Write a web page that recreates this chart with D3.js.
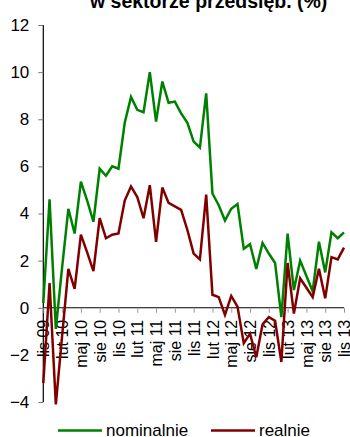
<!DOCTYPE html>
<html>
<head>
<meta charset="utf-8">
<script src="https://cdn.jsdelivr.net/npm/d3@7/dist/d3.min.js"></script>
<style>
  html, body { margin: 0; padding: 0; background: #fff; }
  svg { display: block; font-family: "Liberation Sans", Arial, sans-serif; }
</style>
</head>
<body>
<svg id="chart" width="350" height="437"></svg>
<script>
// ---- data ----
const titleText = "w sektorze przedsięb. (%)";
const tickLabels = ["lis 09","lut 10","maj 10","sie 10","lis 10","lut 11","maj 11","sie 11","lis 11",
                    "lut 12","maj 12","sie 12","lis 12","lut 13","maj 13","sie 13","lis 13"];
const yTicks = [-4,-2,0,2,4,6,8,10,12];
const nominalnie = [0.2,4.6,-0.9,1.7,4.2,3.15,5.35,4.55,3.65,5.9,5.6,6.0,5.9,
  7.85,8.95,8.4,8.3,10.0,7.9,9.6,8.7,8.75,8.25,7.85,7.05,6.8,9.1,
  4.85,4.35,3.7,4.2,4.4,2.5,2.7,1.65,2.75,2.3,1.9,-0.4,3.15,0.75,
  2.0,1.35,0.7,2.8,1.5,3.2,2.95,3.2];
const realnie = [-3.2,1.05,-4.1,-1.2,1.65,0.8,3.1,2.35,1.55,3.8,2.95,3.1,3.15,
  4.55,5.15,4.7,3.8,5.2,2.8,5.1,4.45,4.3,4.15,3.3,2.3,2.05,4.8,
  0.55,0.45,-0.3,0.5,0.05,-1.5,-1.1,-2.1,-0.7,-0.4,-0.55,-2.3,1.9,-0.25,
  1.25,0.85,0.45,1.65,0.4,2.15,2.05,2.55];
const seriesNames = ["nominalnie","realnie"];
const seriesColors = ["#008000","#800000"];

// ---- layout ----
const svg = d3.select("#chart");
const x0 = 43.3, x1 = 344;
const x = d3.scaleLinear().domain([0, nominalnie.length - 1]).range([x0, x1]);
const y = d3.scaleLinear().domain([-4, 12]).range([402, 25]);
const monthsPerTick = 3;

// title (cropped at top)
svg.append("text").attr("x", 90).attr("y", 7.5)
  .attr("font-weight", "bold").attr("font-size", "19.5px").attr("fill", "#000")
  .text(titleText);

// y axis
const yAxis = d3.axisLeft(y).tickValues(yTicks).tickSize(5).tickPadding(9)
  .tickFormat(d3.format("d"));
const gy = svg.append("g").attr("transform", `translate(${x0},0)`).call(yAxis);
gy.select(".domain").attr("stroke", "#000").attr("stroke-width", 1.2).attr("d", `M0,${y(12)}V${y(-4)}`);
gy.selectAll(".tick line").attr("stroke", "#777");
gy.selectAll(".tick text").attr("font-size", "17px").attr("fill", "#000")
  .attr("font-family", "Liberation Sans, Arial, sans-serif");

// x axis at zero
const tickIdx = tickLabels.map((_, i) => i * monthsPerTick);
const xAxis = d3.axisBottom(x).tickValues(tickIdx).tickSize(5)
  .tickFormat((d, i) => tickLabels[i]);
const gx = svg.append("g").attr("transform", `translate(0,${y(0)})`).call(xAxis);
gx.select(".domain").attr("stroke", "#000").attr("stroke-width", 1.2).attr("d", `M${x0},0H${x1}`);
gx.selectAll(".tick line").attr("stroke", "#999");
gx.selectAll(".tick text")
  .attr("font-size", "16px").attr("fill", "#000")
  .attr("font-family", "Liberation Sans, Arial, sans-serif")
  .attr("text-anchor", "end")
  .attr("transform", "rotate(-90)")
  .attr("x", -12).attr("y", 0).attr("dy", "0.35em");

// lines
const line = d3.line().x((d, i) => x(i)).y(d => y(d));
[nominalnie, realnie].forEach((s, k) => {
  svg.append("path").datum(s).attr("d", line)
    .attr("fill", "none").attr("stroke", seriesColors[k])
    .attr("stroke-width", 2.5).attr("stroke-linejoin", "miter");
});

// legend
const legendX = [58, 211];
seriesNames.forEach((n, k) => {
  const g = svg.append("g");
  g.append("line").attr("x1", legendX[k]).attr("x2", legendX[k] + 44)
    .attr("y1", 430.5).attr("y2", 430.5)
    .attr("stroke", seriesColors[k]).attr("stroke-width", 2.3);
  g.append("text").attr("x", legendX[k] + 48).attr("y", 435.5)
    .attr("font-size", "17px").attr("fill", "#000").text(n);
});
</script>
</body>
</html>
